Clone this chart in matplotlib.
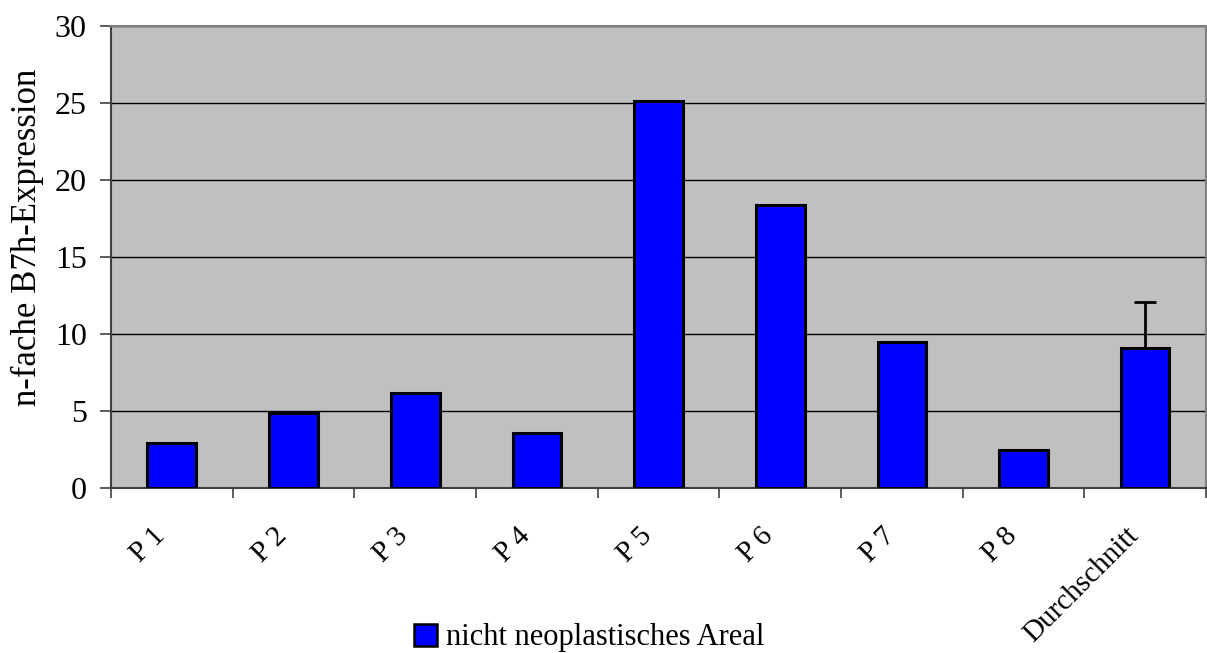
import matplotlib
matplotlib.use("Agg")
import matplotlib.pyplot as plt
from matplotlib.patches import Patch
from matplotlib.transforms import ScaledTranslation
import numpy as np

categories = ["P 1", "P 2", "P 3", "P 4", "P 5", "P 6", "P 7", "P 8", "Durchschnitt"]
values = [2.9, 4.85, 6.17, 3.57, 25.1, 18.4, 9.5, 2.47, 9.1]
errors = [0, 0, 0, 0, 0, 0, 0, 0, 2.95]
yticks = [0, 5, 10, 15, 20, 25, 30]

plt.rcParams["font.family"] = ["Liberation Serif", "DejaVu Serif"]

fig = plt.figure(figsize=(12.07, 6.53), dpi=100)
ax = fig.add_axes([111 / 1207, 1 - 488 / 653, (1206 - 111) / 1207, (488 - 26) / 653])
ax.set_facecolor("#C0C0C0")

x = np.arange(len(categories))
ax.bar(x, values, width=0.4, color="#0000FF", edgecolor="black", linewidth=2.2, zorder=3)
err_idx = [i for i, e in enumerate(errors) if e > 0]
ax.errorbar([x[i] for i in err_idx], [values[i] for i in err_idx],
            yerr=[[0] * len(err_idx), [errors[i] for i in err_idx]],
            fmt="none", ecolor="black", elinewidth=2, capsize=8, capthick=2, zorder=4)

ax.set_xlim(-0.5, len(categories) - 0.5)
ax.set_ylim(0, 30)
ax.set_yticks(yticks)
ax.set_yticklabels([str(t) for t in yticks], fontsize=23)
ax.yaxis.grid(True, color="black", linewidth=1, zorder=1)
ax.set_axisbelow(True)
ax.tick_params(axis="y", length=8, width=1.2, direction="out", pad=9.5, color="#404040")

# ticks sit on the category boundaries, labels under the bar centres
ax.set_xticks(np.arange(-0.5, len(categories), 1.0))
ax.set_xticklabels([])
ax.set_xticks(x, minor=True)
ax.set_xticklabels(categories, minor=True, rotation=45, ha="right", va="top",
                   rotation_mode="anchor", fontsize=21)
ax.tick_params(axis="x", which="major", length=7, width=1.2, direction="out", color="#404040")
ax.tick_params(axis="x", which="minor", length=0, pad=25)
shift = ScaledTranslation(-20 / 100, 0, fig.dpi_scale_trans)
for lbl in ax.get_xticklabels(minor=True):
    lbl.set_transform(lbl.get_transform() + shift)

for side in ["top", "right"]:
    ax.spines[side].set_color("#808080")
    ax.spines[side].set_linewidth(1.5)
ax.spines["left"].set_color("#404040")
ax.spines["left"].set_linewidth(1.5)
ax.spines["bottom"].set_color("#404040")
ax.spines["bottom"].set_linewidth(1.5)

ax.set_ylabel("n-fache B7h-Expression", fontsize=25)
ax.yaxis.set_label_coords((44 - 111) / 1095, (488 - 237) / 462)

handle = Patch(facecolor="#0000FF", edgecolor="black", linewidth=1.8)
fig.legend([handle], ["nicht neoplastisches Areal"], loc="center",
           bbox_to_anchor=(589 / 1207, 1 - 638 / 653), frameon=False, fontsize=22,
           handlelength=0.75, handleheight=0.75, handletextpad=0.3,
           borderpad=0, borderaxespad=0)

fig.savefig("out.png", dpi=100)
